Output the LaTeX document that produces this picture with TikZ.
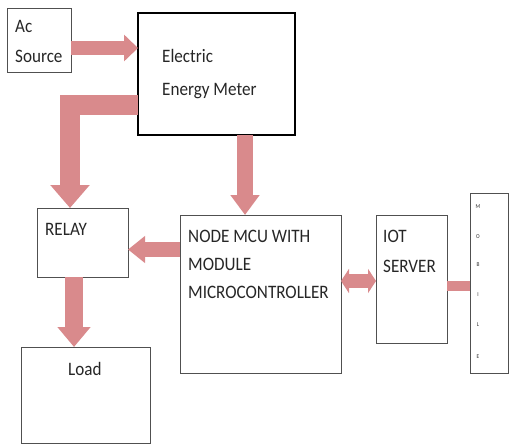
\documentclass[tikz,border=0pt]{standalone}
\usepackage{fontspec}
\setmainfont{Carlito}[FakeStretch=0.9]
\usetikzlibrary{arrows.meta}
\definecolor{arrowred}{RGB}{217,138,140}
\definecolor{boxgray}{RGB}{80,80,80}
\begin{document}
\begin{tikzpicture}[x=1pt,y=-1pt,
  box/.style={draw=boxgray, line width=0.9pt, inner sep=0pt, outer sep=0pt, anchor=north west},
  darkbox/.style={draw=black, line width=1.3pt, inner sep=0pt, outer sep=0pt, anchor=north west},
  txt/.style={font=\fontsize{19}{23}\selectfont, text=black!85, anchor=base west, inner sep=0pt},
  small/.style={font=\fontsize{6}{7}\selectfont, text=black!80, anchor=center, inner sep=0pt},
  blk/.style={draw=arrowred, color=arrowred, line join=miter, line cap=butt}
]
\useasboundingbox (0,0) rectangle (510,444);
% boxes
\node[box, minimum width=64pt, minimum height=64pt] (ac) at (7,8) {};
\node[darkbox, minimum width=157pt, minimum height=122pt] (meter) at (138,13) {};
\node[box, minimum width=91pt, minimum height=69pt] (relay) at (37,208) {};
\node[box, minimum width=161pt, minimum height=158pt] (mcu) at (180,215) {};
\node[box, minimum width=71pt, minimum height=128pt] (iot) at (376,215) {};
\node[box, minimum width=38pt, minimum height=180pt] (mob) at (470,193) {};
\node[box, minimum width=129pt, minimum height=96pt] (load) at (21,347) {};
% texts
\node[txt] (t1) at (15,33) {Ac};
\node[txt] (t2) at (15,63) {Source};
\node[txt] (t3) at (162,62) {Electric};
\node[txt] (t4) at (162,95) {Energy Meter};
\node[txt] (t5) at (45,235) {RELAY};
\node[txt] (t6) at (68,375) {Load};
\node[txt] (t7) at (188,242) {NODE MCU WITH};
\node[txt] (t8) at (188,270) {MODULE};
\node[txt] (t9) at (188,298) {MICROCONTROLLER};
\node[txt] (t10) at (383,242) {IOT};
\node[txt] (t11) at (383,272) {SERVER};
\node[small] (m1) at (478,207) {M};
\node[small] (m2) at (478,237) {O};
\node[small] (m3) at (478,265) {B};
\node[small] (m4) at (478,295) {I};
\node[small] (m5) at (478,325) {L};
\node[small] (m6) at (478,357) {E};
% arrows
\draw[blk, line width=13pt, -{Triangle[length=14pt,width=26pt]}]
  ([yshift=-8pt]ac.east) -- ([yshift=-8pt]ac.east -| meter.west);
\draw[blk, line width=20pt, -{Triangle[length=23pt,width=38pt]}]
  ([yshift=-31pt]meter.west) -| ([xshift=-12.5pt]relay.north);
\draw[blk, line width=16pt, -{Triangle[length=20pt,width=28pt]}]
  ([xshift=28.5pt]meter.south) -- ([xshift=28.5pt]meter.south |- mcu.north);
\draw[blk, line width=15pt, -{Triangle[length=17pt,width=26pt]}]
  ([yshift=44.5pt]mcu.west) -- ([yshift=44.5pt]mcu.west -| relay.east);
\draw[blk, line width=18pt, -{Triangle[length=20pt,width=32pt]}]
  ([xshift=-8.5pt]relay.south) -- ([xshift=-8.5pt]relay.south |- load.north);
\draw[blk, line width=14pt, {Triangle[length=8pt,width=24pt]}-{Triangle[length=8pt,width=24pt]}]
  ([yshift=13pt]mcu.east) -- ([yshift=13pt]mcu.east -| iot.west);
\draw[blk, line width=10pt]
  ([yshift=-7pt]iot.east) -- ([yshift=-7pt]iot.east -| mob.west);
\end{tikzpicture}
\end{document}
